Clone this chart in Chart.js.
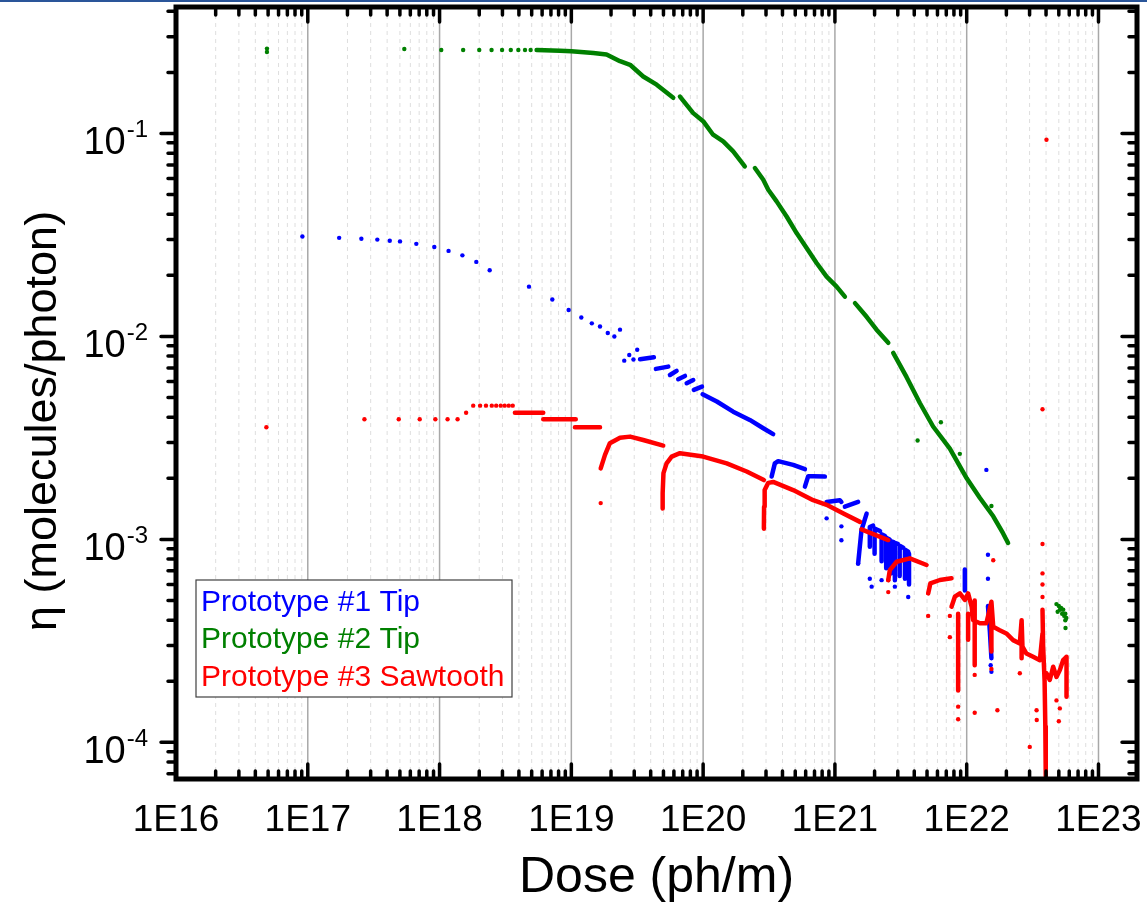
<!DOCTYPE html>
<html>
<head>
<meta charset="utf-8">
<script src="https://cdn.jsdelivr.net/npm/chart.js@4.4.1/dist/chart.umd.min.js"></script>
<style>
    html, body { margin: 0; padding: 0; background: #fff; }
    #wrap { position: relative; width: 1147px; height: 908px; }
    #topline { position: absolute; left: 0; top: 0; width: 1147px; height: 2px; background: #2a5599; }
</style>
</head>
<body>
<div id="wrap"><canvas id="chart"></canvas><div id="topline"></div></div>
<script>
// dose (ph/m) vs eta (molecules/photon)
const seriesNames = ["Prototype #1 Tip", "Prototype #2 Tip", "Prototype #3 Sawtooth"];
const seriesColors = ["#0000ff", "#008000", "#ff0000"];

const xTickValues = [1e16, 1e17, 1e18, 1e19, 1e20, 1e21, 1e22, 1e23];
const yTickValues = [1e-4, 1e-3, 1e-2, 1e-1];

// Prototype #1 Tip - isolated points
const tip1Dots = [
    [9.1e16, 0.0311], [1.73e17, 0.0306], [2.55e17, 0.0303], [3.37e17, 0.0300], [4.19e17, 0.0296],
    [5.01e17, 0.0294], [6.66e17, 0.0286], [9.12e17, 0.0276], [1.17e18, 0.0264], [1.49e18, 0.0251],
    [1.9e18, 0.0233], [2.4e18, 0.0212], [4.77e18, 0.0176], [7.17e18, 0.0152], [9.54e18, 0.0135],
    [1.19e19, 0.0124], [1.43e19, 0.0116], [1.65e19, 0.0112], [1.89e19, 0.0104], [2.12e19, 0.0100],
    [2.34e19, 0.0108], [2.52e19, 0.0076], [2.75e19, 0.0081], [2.96e19, 0.0077], [3.16e19, 0.0086],
    [8.65e20, 0.00127], [1.12e21, 0.00116], [1.12e21, 0.00099], [1.5e21, 0.00076],
    [1.84e21, 0.00064], [1.9e21, 0.000585], [2.26e21, 0.00063], [2.85e21, 0.000585], [3.6e21, 0.00052],
    [1.41e22, 0.0022], [1.45e22, 0.00084], [1.45e22, 0.00064], [1.52e22, 0.00024], [1.54e22, 0.000223]
];

// Prototype #1 Tip - dense runs (null = gap)
const tip1Trace = [
    [3.32e19, 0.00773], [4.23e19, 0.0079], null,
    [4.38e19, 0.00692], [5.44e19, 0.0071], null,
    [5.6e19, 0.00646], [6.29e19, 0.00677], null,
    [6.47e19, 0.00616], [7.28e19, 0.00639], null,
    [7.5e19, 0.00588], [8.41e19, 0.0061], null,
    [8.5e19, 0.00545], [9.8e19, 0.00566], null,
    [9.91e19, 0.00519], [1.27e20, 0.00478], [1.69e20, 0.00426], [2.26e20, 0.00388], [2.86e20, 0.00353], [3.4e20, 0.0033], null,
    [3.31e20, 0.00204], [3.5e20, 0.00237], [3.71e20, 0.00243], [4.82e20, 0.00233], [5.92e20, 0.00222], null,
    [5.92e20, 0.00182], [6.27e20, 0.00205], [6.84e20, 0.00205], [8.39e20, 0.00204], null,
    [8.65e20, 0.00153], [1.09e21, 0.00156], [1.12e21, 0.00153], null,
    [1.19e21, 0.00145], [1.5e21, 0.00153], null,
    [1.5e21, 0.00076], [1.59e21, 0.00111], [1.74e21, 0.00134], null,
    [1.84e21, 0.00092], [1.84e21, 0.00115], [1.95e21, 0.00117], null,
    [2.0e21, 0.00085], [2.0e21, 0.00113], [2.2e21, 0.0011], null,
    [2.26e21, 0.00078], [2.26e21, 0.00106], [2.4e21, 0.00104], null,
    [2.45e21, 0.00072], [2.45e21, 0.00102], [2.6e21, 0.001], null,
    [2.65e21, 0.00068], [2.65e21, 0.00098], [2.8e21, 0.00097], null,
    [2.85e21, 0.00063], [2.85e21, 0.00096], [3.0e21, 0.00095], null,
    [3.1e21, 0.00066], [3.1e21, 0.00093], [3.3e21, 0.00091], null,
    [3.4e21, 0.00064], [3.4e21, 0.00089], [3.6e21, 0.00087], null,
    [3.65e21, 0.0006], [3.65e21, 0.00085], null,
    [9.68e21, 0.00071], [9.68e21, 0.00056], null,
    [1.45e22, 0.00047], [1.5e22, 0.00035], [1.54e22, 0.00026]
];

// Prototype #2 Tip - isolated points
const tip2Dots = [
    [4.9e16, 0.262], [4.9e16, 0.252], [5.4e17, 0.261], [1.03e18, 0.258], [1.51e18, 0.258],
    [2.0e18, 0.258], [2.48e18, 0.258], [2.98e18, 0.258], [3.47e18, 0.258], [3.96e18, 0.258],
    [4.45e18, 0.258], [4.91e18, 0.258],
    [4.24e21, 0.00307], [6.37e21, 0.00378], [8.87e21, 0.00264], [1.54e22, 0.00146],
    [4.8e22, 0.00048], [4.9e22, 0.00044], [5.0e22, 0.00047], [5.1e22, 0.00045], [5.2e22, 0.00046],
    [5.3e22, 0.00043], [5.4e22, 0.00045], [5.5e22, 0.00042], [5.6e22, 0.00043], [5.6e22, 0.0004],
    [5.7e22, 0.00041], [5.62e22, 0.000366]
];

// Prototype #2 Tip - dense runs
const tip2Trace = [
    [5.45e18, 0.258], [8.2e18, 0.256], [1.0e19, 0.254], [1.47e19, 0.249], [1.85e19, 0.245],
    [2.34e19, 0.227], [2.79e19, 0.218], [3.51e19, 0.191], [4.44e19, 0.174], [5.93e19, 0.15], null,
    [6.67e19, 0.152], [8.41e19, 0.126], [1.0e20, 0.115], [1.19e20, 0.0986], [1.42e20, 0.0914],
    [1.69e20, 0.0816], [2.07e20, 0.0688], null,
    [2.47e20, 0.0676], [2.86e20, 0.0592], [3.12e20, 0.0528], [3.61e20, 0.0463], [4.3e20, 0.039],
    [5.12e20, 0.0323], [6.1e20, 0.0273], [7.26e20, 0.023], [8.65e20, 0.0197], [1.03e21, 0.0176],
    [1.19e21, 0.0157], null,
    [1.42e21, 0.0146], [1.74e21, 0.0125], [2.07e21, 0.0108], [2.54e21, 0.0093], null,
    [2.77e21, 0.0083], [3.5e21, 0.0063], [4.41e21, 0.0047], [5.56e21, 0.0036], [7.45e21, 0.0028],
    [1.0e22, 0.002], [1.26e22, 0.0016], [1.59e22, 0.0013], [1.89e22, 0.00107], [2.06e22, 0.00096]
];

// Prototype #3 Sawtooth - isolated points
const tip3Dots = [
    [4.85e16, 0.00357], [2.69e17, 0.00391], [4.9e17, 0.00391], [7.07e17, 0.00391], [9.29e17, 0.00391],
    [1.15e18, 0.00391], [1.37e18, 0.00391], [1.59e18, 0.00421], [1.8e18, 0.00456], [2.03e18, 0.00456],
    [2.25e18, 0.00456], [2.49e18, 0.00456], [2.69e18, 0.00456], [2.91e18, 0.00456], [3.12e18, 0.00456],
    [3.35e18, 0.00456], [3.59e18, 0.00456],
    [1.67e19, 0.00151],
    [2.54e21, 0.00063], [2.54e21, 0.00055], [5.1e21, 0.00042], [7.45e21, 0.00042], [7.45e21, 0.00033],
    [8.61e21, 0.00015], [8.61e21, 0.00013], [1.15e22, 0.000215], [1.15e22, 0.00014], [1.54e22, 0.00023],
    [1.59e22, 0.00079], [1.71e22, 0.000144], [2.53e22, 0.000219], [3.01e22, 9.5e-5],
    [3.39e22, 0.000144], [3.4e22, 0.000129],
    [3.76e22, 0.00438], [3.76e22, 0.00095], [3.76e22, 0.00068], [3.76e22, 0.0006], [3.76e22, 0.00052],
    [4.03e22, 0.0932], [4.8e22, 0.000161], [5.0e22, 0.000127], [5.09e22, 0.000147]
];

// Prototype #3 Sawtooth - dense runs
const tip3Trace = [
    [3.73e18, 0.00421], [6.12e18, 0.00421], null,
    [6.12e18, 0.00391], [1.08e19, 0.00391], null,
    [1.065e19, 0.00357], [1.65e19, 0.00357], null,
    [1.67e19, 0.00224], [1.8e19, 0.00261], [1.96e19, 0.00298], [2.34e19, 0.00317], [2.79e19, 0.00321],
    [3.51e19, 0.00309], [4.98e19, 0.0029], null,
    [4.93e19, 0.00142], [4.93e19, 0.00169], [5.0e19, 0.00212], [5.28e19, 0.00237], [5.77e19, 0.00256],
    [6.67e19, 0.00266], [1.0e20, 0.00256], [1.51e20, 0.00237], [2.14e20, 0.00216], [2.89e20, 0.00196], null,
    [2.89e20, 0.00113], [2.9e20, 0.00145], [2.93e20, 0.00175], [3.12e20, 0.0019], [3.4e20, 0.00192],
    [4.82e20, 0.00175], [6.84e20, 0.00156], [8.65e20, 0.00148], [1.16e21, 0.00134], [1.55e21, 0.00122], null,
    [1.59e21, 0.00112], [2.54e21, 0.000993], null,
    [2.54e21, 0.00063], [2.61e21, 0.000706], [2.94e21, 0.000776], [3.7e21, 0.000807], [4.96e21, 0.000748], null,
    [5.1e21, 0.000542], [5.3e21, 0.000607], [6.25e21, 0.000631], [7.67e21, 0.000643], null,
    [7.67e21, 0.000466], [8.13e21, 0.000522], [8.87e21, 0.000542], [9.68e21, 0.000503], [1.025e22, 0.000542],
    [1.09e22, 0.000466], [1.12e22, 0.0004], [1.26e22, 0.000386], [1.41e22, 0.000386], [1.54e22, 0.000493],
    [1.59e22, 0.000371], [1.78e22, 0.000357], [2.0e22, 0.000344], [2.25e22, 0.000319], [2.53e22, 0.000307],
    [2.61e22, 0.0004], [2.65e22, 0.000296], [2.84e22, 0.000274], [3.19e22, 0.000264], [3.59e22, 0.000254],
    [3.76e22, 0.000344], null,
    [8.61e21, 0.00043], [8.61e21, 0.00018], null,
    [1.025e22, 0.00043], [1.025e22, 0.00032], null,
    [1.15e22, 0.0005], [1.15e22, 0.00024], null,
    [1.54e22, 0.00049], [1.54e22, 0.00028], null,
    [2.61e22, 0.0004], [2.61e22, 0.00026], null,
    [3.76e22, 0.00045], [3.8e22, 0.0003], [3.9e22, 0.0002], [3.95e22, 0.00012], [3.98e22, 6.8e-5], null,
    [4.03e22, 0.000219], [4.27e22, 0.000203], [4.53e22, 0.000236], [4.8e22, 0.00021], [5.09e22, 0.000227],
    [5.39e22, 0.000254], [5.72e22, 0.000264], [5.72e22, 0.000168]
];

const FONT = "'Liberation Sans', Arial, sans-serif";
Chart.defaults.font.family = FONT;
Chart.defaults.color = "#000";

function toPoints(list) {
    let lastX = null;
    return list.map(p => {
        if (p === null) return { x: lastX, y: null };
        lastX = p[0];
        return { x: p[0], y: p[1] };
    });
}

function dotSet(list, i, order) {
    return {
        label: seriesNames[i],
        data: toPoints(list),
        showLine: false,
        pointRadius: 2.2,
        pointBorderWidth: 0,
        pointBackgroundColor: seriesColors[i],
        backgroundColor: seriesColors[i],
        order: order
    };
}

function traceSet(list, i, order) {
    return {
        label: seriesNames[i],
        data: toPoints(list),
        showLine: true,
        spanGaps: false,
        pointRadius: 0,
        borderWidth: 4.5,
        borderColor: seriesColors[i],
        borderCapStyle: "round",
        borderJoinStyle: "round",
        order: order
    };
}

const decor = {
    id: "decor",
    beforeDatasetsDraw(chart) {
        const { ctx, chartArea: a, scales: { x } } = chart;
        ctx.save();
        for (let d = 16; d <= 23; d++) {
            for (let k = 1; k <= 9; k++) {
                const px = x.getPixelForValue(k * Math.pow(10, d));
                if (px <= a.left + 2 || px >= a.right - 2) continue;
                ctx.beginPath();
                if (k === 1) {
                    ctx.strokeStyle = "#a8a8a8";
                    ctx.lineWidth = 1.5;
                    ctx.setLineDash([]);
                } else {
                    ctx.strokeStyle = "#dedede";
                    ctx.lineWidth = 1;
                    ctx.setLineDash([4, 4]);
                }
                ctx.moveTo(px, a.top);
                ctx.lineTo(px, a.bottom);
                ctx.stroke();
            }
        }
        ctx.restore();
    },
    afterDraw(chart) {
        const { ctx, chartArea: a, scales: { x, y } } = chart;
        ctx.save();
        ctx.setLineDash([]);
        ctx.strokeStyle = "#000";
        ctx.lineCap = "round";
        ctx.lineWidth = 3.5;

        // x ticks, top and bottom, pointing in
        for (let d = 16; d <= 23; d++) {
            for (let k = 1; k <= 9; k++) {
                const px = x.getPixelForValue(k * Math.pow(10, d));
                if (px < a.left - 1 || px > a.right + 1) continue;
                const len = k === 1 ? 15 : 8;
                ctx.beginPath();
                ctx.moveTo(px, a.bottom);
                ctx.lineTo(px, a.bottom - len);
                ctx.moveTo(px, a.top);
                ctx.lineTo(px, a.top + len);
                ctx.stroke();
            }
        }
        // y ticks, left outward, right inward
        for (let d = -5; d <= 0; d++) {
            for (let k = 1; k <= 9; k++) {
                const py = y.getPixelForValue(k * Math.pow(10, d));
                if (py < a.top - 1 || py > a.bottom + 1) continue;
                const len = k === 1 ? 15 : 8;
                ctx.beginPath();
                ctx.moveTo(a.left, py);
                ctx.lineTo(a.left - len, py);
                ctx.moveTo(a.right, py);
                ctx.lineTo(a.right - len, py);
                ctx.stroke();
            }
        }

        ctx.lineWidth = 5;
        ctx.lineCap = "butt";
        ctx.strokeRect(a.left, a.top, a.right - a.left, a.bottom - a.top);

        // y tick labels as 10 with raised exponent
        ctx.fillStyle = "#000";
        ctx.textBaseline = "alphabetic";
        ctx.textAlign = "right";
        for (const v of yTickValues) {
            const py = y.getPixelForValue(v);
            const exp = String(Math.round(Math.log10(v)));
            const xEnd = a.left - 28;
            ctx.font = "24px " + FONT;
            const w = ctx.measureText(exp).width;
            ctx.fillText(exp, xEnd, py + 3.5);
            ctx.font = "38px " + FONT;
            ctx.fillText("10", xEnd - w - 1, py + 20.5);
        }

        // y axis title
        ctx.save();
        ctx.translate(44, (a.top + a.bottom) / 2 + 28);
        ctx.rotate(-Math.PI / 2);
        ctx.textAlign = "center";
        ctx.textBaseline = "middle";
        ctx.font = "45px " + FONT;
        ctx.fillText("\u03b7 (molecules/photon)", 0, 0);
        ctx.restore();

        // legend box inside the plot
        const bx = a.left + 20, by = a.top + 573, bw = 316, bh = 117;
        ctx.fillStyle = "#fff";
        ctx.fillRect(bx, by, bw, bh);
        ctx.lineWidth = 1.2;
        ctx.strokeStyle = "#404040";
        ctx.strokeRect(bx, by, bw, bh);
        ctx.font = "30px " + FONT;
        ctx.textAlign = "left";
        ctx.textBaseline = "middle";
        for (let i = 0; i < seriesNames.length; i++) {
            ctx.fillStyle = seriesColors[i];
            ctx.fillText(seriesNames[i], bx + 5, by + 23 + i * 37.2);
        }
        ctx.restore();
    }
};

new Chart(document.getElementById("chart"), {
    type: "scatter",
    data: {
        datasets: [
            traceSet(tip1Trace, 0, 5),
            dotSet(tip1Dots, 0, 4),
            traceSet(tip2Trace, 1, 3),
            dotSet(tip2Dots, 1, 2),
            traceSet(tip3Trace, 2, 1),
            dotSet(tip3Dots, 2, 0)
        ]
    },
    options: {
        animation: false,
        responsive: true,
        maintainAspectRatio: false,
        layout: { padding: { top: 7, right: 10, left: 0, bottom: 0 } },
        plugins: {
            legend: { display: false },
            tooltip: { enabled: false }
        },
        scales: {
            x: {
                type: "logarithmic",
                position: "bottom",
                min: 1e16,
                max: 1.96e23,
                grid: { display: false },
                border: { display: false },
                afterBuildTicks: axis => { axis.ticks = xTickValues.map(v => ({ value: v })); },
                afterFit: axis => {
                    axis.height = 129;
                    axis.paddingLeft = 0;
                    axis.paddingRight = 0;
                },
                ticks: {
                    autoSkip: false,
                    maxRotation: 0,
                    padding: 12,
                    font: { size: 37 },
                    color: "#000",
                    callback: v => "1E" + Math.round(Math.log10(v))
                },
                title: {
                    display: true,
                    text: "Dose (ph/m)",
                    font: { size: 50 },
                    color: "#000",
                    padding: { top: 0, bottom: 0 }
                }
            },
            y: {
                type: "logarithmic",
                min: 6.6e-5,
                max: 0.42,
                grid: { display: false },
                border: { display: false },
                afterBuildTicks: axis => { axis.ticks = yTickValues.map(v => ({ value: v })); },
                afterFit: axis => {
                    axis.width = 176;
                    axis.paddingTop = 0;
                    axis.paddingBottom = 0;
                },
                ticks: { display: false }
            }
        }
    },
    plugins: [decor]
});
</script>
</body>
</html>
